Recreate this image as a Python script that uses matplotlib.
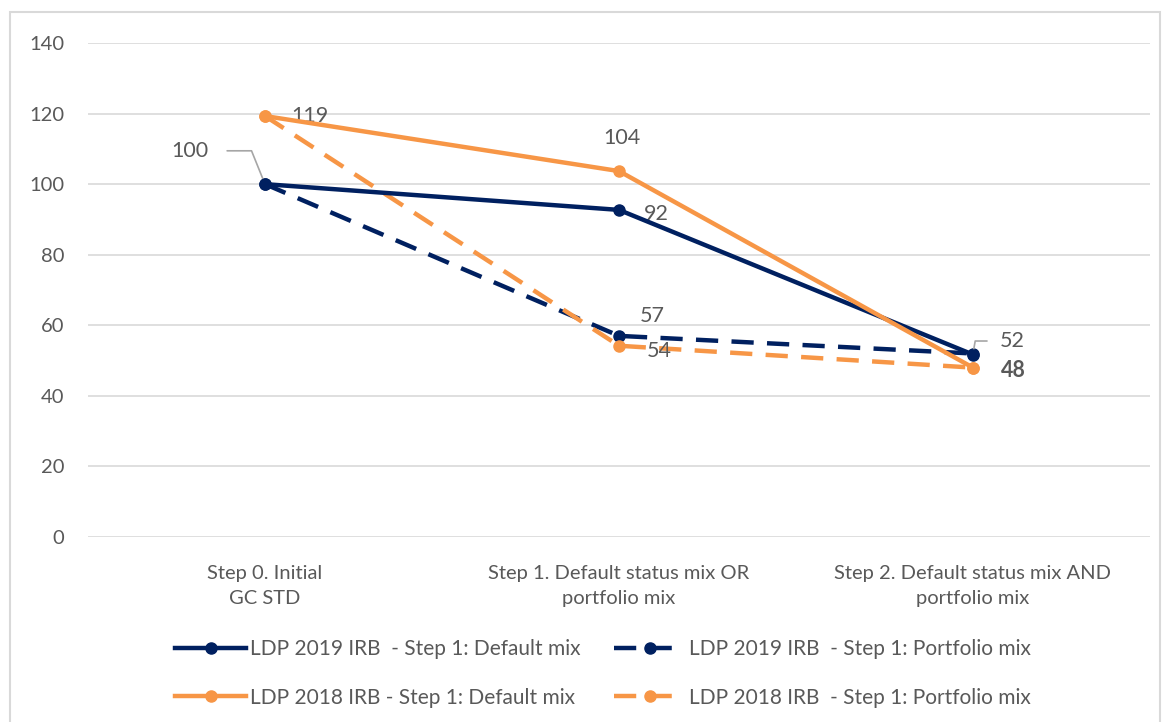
import matplotlib.pyplot as plt
from matplotlib.patches import Rectangle

# categorias e valores
categories = ['Step 0. Initial\nGC STD', 'Step 1. Default status mix OR\nportfolio mix',
              'Step 2. Default status mix AND\nportfolio mix']
ldp2019_default = [100, 92.7, 51.7]
ldp2019_portfolio = [100, 57.0, 52.0]
ldp2018_default = [119.3, 103.7, 48.0]
ldp2018_portfolio = [119.3, 54.2, 48.0]
yticks = [0, 20, 40, 60, 80, 100, 120, 140]

navy = '#002060'
orange = '#f79646'
grey = '#595959'

plt.rcParams['font.family'] = ['Lato', 'DejaVu Sans']

fig = plt.figure(figsize=(11.67, 7.22), dpi=100)
fig.patches.append(Rectangle((10 / 1167, -0.01), 1150 / 1167, 1 - 12 / 722 + 0.01,
                             transform=fig.transFigure, fill=False,
                             edgecolor='#d9d9d9', linewidth=1.5))
ax = fig.add_axes([88 / 1167, 1 - 537 / 722, (1150 - 88) / 1167, (537 - 43) / 722])

x = list(range(len(categories)))
l1, = ax.plot(x, ldp2019_default, '-', color=navy, lw=3.2, marker='o', ms=8, zorder=4,
              label='LDP 2019 IRB  - Step 1: Default mix')
l2, = ax.plot(x, ldp2019_portfolio, '--', color=navy, lw=3.2, marker='o', ms=8, zorder=3,
              dashes=(5, 3), label='LDP 2019 IRB  - Step 1: Portfolio mix')
l3, = ax.plot(x, ldp2018_default, '-', color=orange, lw=3.2, marker='o', ms=8, zorder=4,
              label='LDP 2018 IRB - Step 1: Default mix')
l4, = ax.plot(x, ldp2018_portfolio, '--', color=orange, lw=3.2, marker='o', ms=8, zorder=3,
              dashes=(5, 3), label='LDP 2018 IRB  - Step 1: Portfolio mix')

ax.set_xlim(-0.5, 2.5)
ax.set_ylim(0, 140)
ax.set_yticks(yticks)
ax.set_xticks(x)
ax.set_xticklabels(categories, linespacing=1.6)
ax.grid(axis='y', color='#d9d9d9', lw=1.2)
ax.set_axisbelow(True)
for s in ax.spines.values():
    s.set_visible(False)
ax.tick_params(length=0, labelsize=14.5, colors=grey, pad=17)
ax.tick_params(axis='x', pad=20)

# rotulos dos pontos
fs = 15.5
ax.annotate('100', xy=(x[0], ldp2019_default[0]), xytext=(-54, 24), textcoords='offset points',
            fontsize=fs, color=grey, ha='center', va='center',
            arrowprops=dict(arrowstyle='-', color='#a6a6a6', lw=1.2,
                            connectionstyle='angle,angleA=0,angleB=112,rad=0',
                            shrinkA=0, shrinkB=0, relpos=(1.5, 0.5)))
ax.annotate('119', xy=(x[0], ldp2018_default[0]), xytext=(32, 0), textcoords='offset points',
            fontsize=fs, color=grey, ha='center', va='center')
ax.annotate('104', xy=(x[1], ldp2018_default[1]), xytext=(2, 24), textcoords='offset points',
            fontsize=fs, color=grey, ha='center', va='center')
ax.annotate('92', xy=(x[1], ldp2019_default[1]), xytext=(27, -3), textcoords='offset points',
            fontsize=fs, color=grey, ha='center', va='center')
ax.annotate('57', xy=(x[1], ldp2019_portfolio[1]), xytext=(24, 14), textcoords='offset points',
            fontsize=fs, color=grey, ha='center', va='center')
ax.annotate('54', xy=(x[1], ldp2018_portfolio[1]), xytext=(29, -4), textcoords='offset points',
            fontsize=fs, color=grey, ha='center', va='center')
ax.annotate('52', xy=(x[2], ldp2019_portfolio[2]), xytext=(28, 9), textcoords='offset points',
            fontsize=fs, color=grey, ha='center', va='center',
            arrowprops=dict(arrowstyle='-', color='#a6a6a6', lw=1.2,
                            connectionstyle='angle,angleA=0,angleB=80,rad=0',
                            shrinkA=0, shrinkB=0, relpos=(-0.5, 0.5)))
ax.annotate('48', xy=(x[2], ldp2018_default[2]), xytext=(29, -2), textcoords='offset points',
            fontsize=fs, color=grey, ha='center', va='center', fontweight='bold')

fig.legend(handles=[l1, l3, l2, l4], ncol=2, loc='lower center', bbox_to_anchor=(0.517, -0.006),
           frameon=False, fontsize=15, labelcolor=grey, handlelength=3.4,
           handletextpad=0.2, columnspacing=1.6, labelspacing=1.35)

fig.savefig('out.png', dpi=100)
